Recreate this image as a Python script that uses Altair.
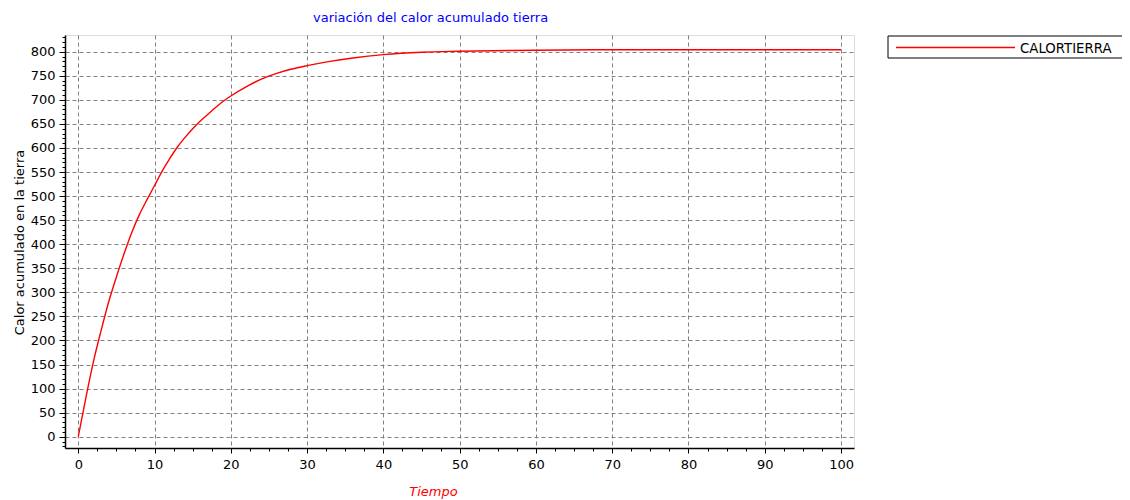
import altair as alt
import pandas as pd

# ---- data ----
tiempo = [0, 1, 2, 3, 4, 5, 6, 7, 8, 9, 10, 11, 12, 13, 14, 15, 16, 17, 18, 19,
          20, 22, 24, 26, 28, 30, 33, 36, 40, 45, 50, 60, 70, 80, 90, 100]
calor = [0, 81, 157, 221, 281, 332, 380, 424, 461, 492, 522, 552, 578, 602, 622, 640,
         656, 670, 684, 697, 708, 727, 743, 755, 764, 771, 780, 787, 794, 799, 801,
         803, 804, 804, 804, 804]
serie = "CALORTIERRA"
titulo = "variación del calor acumulado tierra"
x_titulo = "Tiempo"
y_titulo = "Calor acumulado en la tierra"
x_ticks = [i * 2.5 for i in range(41)]
y_ticks = list(range(-20, 831, 10))

df = pd.DataFrame({"t": tiempo, "v": calor, "serie": serie})
leg_df = pd.DataFrame({"serie": [serie]})
tit_df = pd.DataFrame({"titulo": [titulo]})

FONT = "DejaVu Sans"
W, H = 789, 413

x_scale = alt.Scale(domain=[-1.74, 101.7], nice=False, zero=False)
y_scale = alt.Scale(domain=[-23.5, 834.7], nice=False, zero=False)

x_axis = alt.Axis(
    values=x_ticks,
    labelExpr="datum.value % 10 === 0 ? datum.label : ''",
    tickSize={"condition": {"test": "datum.value % 10 === 0", "value": 5}, "value": 3},
    gridOpacity={"condition": {"test": "datum.value % 10 === 0", "value": 1}, "value": 0},
    grid=True, gridColor="#808080", gridDash=[4, 3], gridWidth=1,
    domainColor="#000000", domainWidth=1.5, tickColor="#000000",
    labelColor="#000000", labelFont=FONT, labelFontSize=13, labelPadding=5,
    labelOverlap=False, labelFlush=False, labelBound=False,
    title=x_titulo, titleColor="#ff0000", titleFont=FONT, titleFontSize=13,
    titleFontStyle="italic", titleFontWeight="normal",
    titleX=368, titleY=47, titleBaseline="alphabetic", titleAnchor="start", titleAlign="center",
)
y_axis = alt.Axis(
    values=y_ticks,
    labelExpr="datum.value % 50 === 0 ? datum.label : ''",
    tickSize={"condition": {"test": "datum.value % 50 === 0", "value": 6}, "value": 3},
    gridOpacity={"condition": {"test": "datum.value % 50 === 0", "value": 1}, "value": 0},
    grid=True, gridColor="#808080", gridDash=[4, 3], gridWidth=1,
    domainColor="#000000", domainWidth=1.5, tickColor="#000000",
    labelColor="#000000", labelFont=FONT, labelFontSize=13, labelPadding=4,
    labelOverlap=False, labelFlush=False, labelBound=False,
    title=y_titulo, titleColor="#000000", titleFont=FONT, titleFontSize=13,
    titleFontWeight="normal", titleAngle=270,
    titleX=-42, titleY=207, titleBaseline="alphabetic", titleAlign="center",
)

line = alt.Chart(df).mark_line(color="#ff0000", strokeWidth=1.4, interpolate="monotone").encode(
    x=alt.X("t:Q", scale=x_scale, axis=x_axis),
    y=alt.Y("v:Q", scale=y_scale, axis=y_axis),
)

# chart title as a text annotation
title_text = alt.Chart(tit_df).mark_text(
    align="left", baseline="alphabetic", font=FONT, fontSize=13, color="#0000ff"
).encode(x=alt.value(248), y=alt.value(-13.5), text="titulo:N")

# legend box (drawn as annotation)
leg_box = alt.Chart(leg_df).mark_rect(fill="white", stroke="#000000", strokeWidth=1).encode(
    x=alt.value(823), x2=alt.value(1061), y=alt.value(1), y2=alt.value(23)
)
leg_line = alt.Chart(leg_df).mark_rule(color="#ff0000", strokeWidth=1.3).encode(
    x=alt.value(831), x2=alt.value(950), y=alt.value(12.5)
)
leg_text = alt.Chart(leg_df).mark_text(
    align="left", baseline="alphabetic", font=FONT, fontSize=13.3, color="#000000"
).encode(x=alt.value(955), y=alt.value(17.5), text="serie:N")

chart = alt.layer(line, title_text, leg_box, leg_line, leg_text).properties(
    width=W, height=H,
    autosize=alt.AutoSizeParams(type="none"),
    padding={"left": 57, "top": 27, "right": 268, "bottom": 52},
).configure_view(stroke="transparent", strokeWidth=0, strokeOpacity=0).configure(background="white")

chart.save("out.html", embed_options={"renderer": "svg", "actions": False})
